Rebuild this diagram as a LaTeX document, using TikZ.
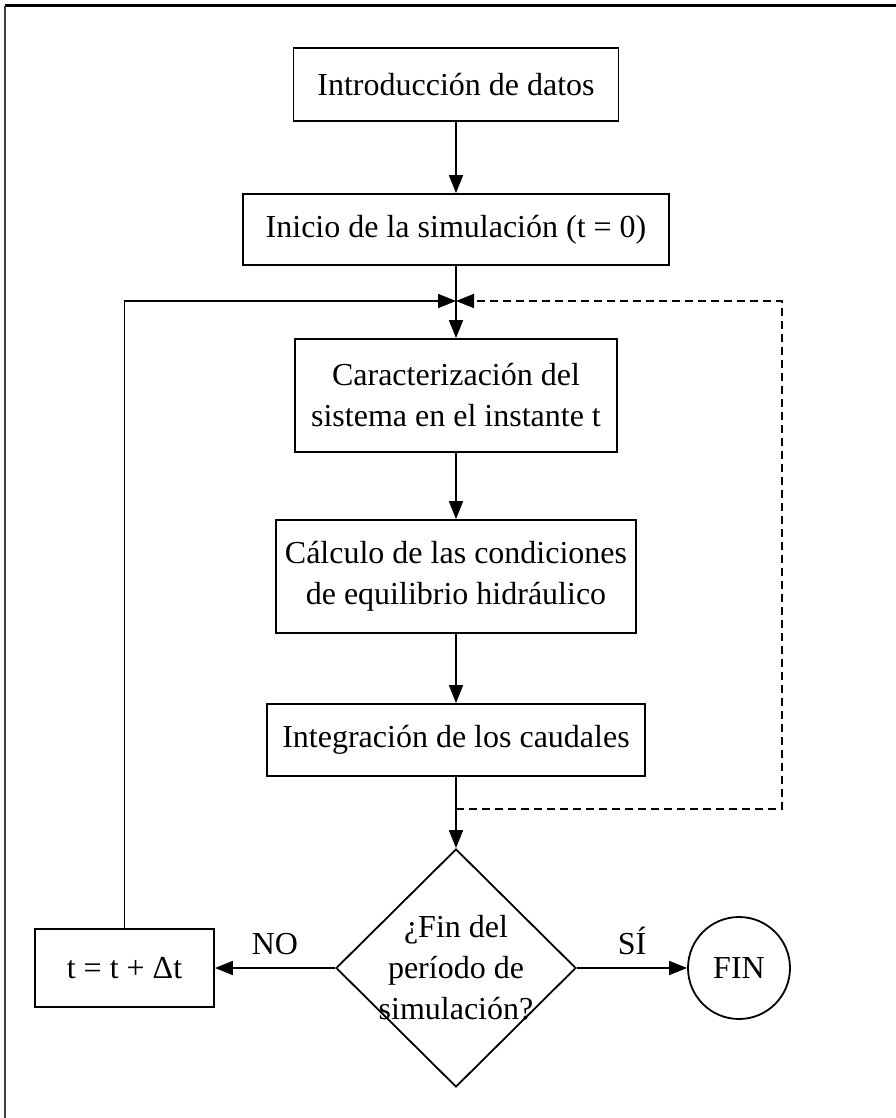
\documentclass[tikz,border=0pt]{standalone}
\usepackage{fontspec}
\setmainfont{Liberation Serif}
\usetikzlibrary{arrows.meta,shapes.geometric}
\begin{document}
\begin{tikzpicture}[x=1pt,y=-1pt,
  every node/.style={font=\fontsize{32}{41}\selectfont, align=center, inner sep=0pt},
  procbox/.style={draw, line width=1.8pt, rectangle},
  flow/.style={line width=1.8pt},
  tip/.style={-{Triangle[length=18pt,width=14pt]}},
  loopline/.style={line width=1.8pt, dash pattern=on 8pt off 5pt}]
  \useasboundingbox (0,0) rectangle (896,1118);
  % page frame: top and left edges
  \draw[line width=3pt] (5,6) -- (896,6);
  \draw[line width=1.6pt, black!75] (5,6) -- (5,1118);

  % process boxes
  \node[procbox, minimum width=325pt, minimum height=73pt] (b1) at (456,84.5) {Introducción de datos};
  \node[procbox, minimum width=426pt, minimum height=71pt] (b2) at (456,229.5) {Inicio de la simulación (t = 0)};
  \node[procbox, minimum width=322pt, minimum height=113pt] (b3) at (456,395.5) {Caracterización del\\sistema en el instante t};
  \node[procbox, minimum width=360pt, minimum height=113pt] (b4) at (456,576.5) {Cálculo de las condiciones\\de equilibrio hidráulico};
  \node[procbox, minimum width=378pt, minimum height=72pt] (b5) at (456,740) {Integración de los caudales};

  % decision, increment and end
  \node[diamond, draw, line width=1.8pt, minimum width=240pt, minimum height=238pt, aspect=1] (dec) at (456,968) {};
  \node at (456,968) {¿Fin del\\período de\\simulación?};
  \node[procbox, minimum width=179pt, minimum height=78pt] (inc) at (124.5,968) {t = t + Δt};
  \node[circle, draw, line width=1.8pt, minimum size=102pt] (fin) at (739,968) {FIN};

  % junction points of the loop
  \coordinate (j) at (456,301);
  \coordinate (d) at (456,809);
  \coordinate (dr) at (782,809);
  \coordinate (ur) at (782,301);

  % main flow
  \draw[flow, tip] (b1) -- (b2);
  \draw[flow, tip] (b2) -- (j) -- (b3);
  \draw[flow, tip] (b3) -- (b4);
  \draw[flow, tip] (b4) -- (b5);
  \draw[flow, tip] (b5) -- (dec);
  \draw[flow, tip] (inc.north) |- (j);
  \draw[loopline, tip] (d) -- (dr) -- (ur) -- (j);

  % decision outcomes
  \draw[flow, tip] (dec.west) -- node[above=12pt] {NO} (inc.east);
  \draw[flow, tip] (dec.east) -- node[above=12pt] {SÍ} (fin.west);
\end{tikzpicture}
\end{document}
